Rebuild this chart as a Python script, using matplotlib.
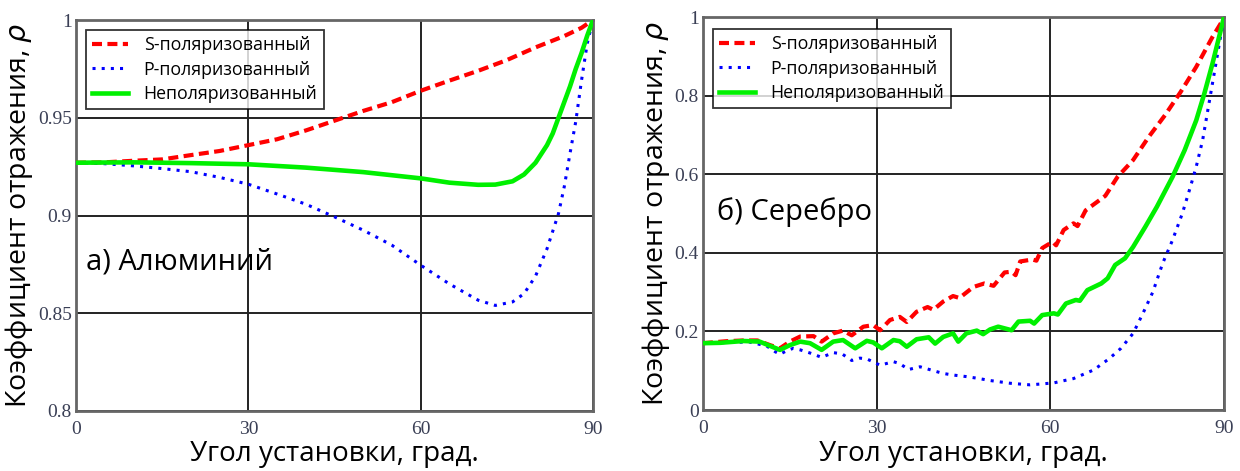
import numpy as np
import matplotlib.pyplot as plt

# ---- a) aluminium ----
al_angle_s = [0, 5, 10, 15, 20, 25, 30, 35, 40, 45, 50, 55, 60, 65, 70, 75, 80, 85, 88, 90]
al_s = [0.927, 0.9272, 0.928, 0.9287, 0.9309, 0.933, 0.936, 0.939, 0.9435, 0.9485, 0.9535,
        0.958, 0.9638, 0.969, 0.974, 0.9795, 0.986, 0.9918, 0.996, 1.0]

al_angle_p = [0, 5, 10, 15, 20, 25, 30, 35, 40, 45, 50, 55, 60, 65, 70, 73, 76, 78, 80,
              82, 84, 85, 86, 87, 88, 89, 90]
al_p = [0.927, 0.9265, 0.9254, 0.924, 0.9224, 0.9195, 0.916, 0.911, 0.9058, 0.8993, 0.8925,
        0.8848, 0.8746, 0.865, 0.8567, 0.854, 0.8558, 0.860, 0.869, 0.883, 0.901, 0.9147,
        0.9317, 0.948, 0.969, 0.988, 1.0]

al_angle_u = [0, 10, 20, 30, 40, 50, 60, 65, 70, 73, 76, 78, 80, 82, 83, 84, 85, 86, 87, 88, 89, 90]
al_u = [0.927, 0.9272, 0.9268, 0.9262, 0.9245, 0.9222, 0.919, 0.9168, 0.9157, 0.9158, 0.9175,
        0.921, 0.927, 0.936, 0.942, 0.950, 0.958, 0.966, 0.975, 0.983, 0.992, 1.0]

# ---- b) silver ----
ag_angle_s = [0, 4, 7, 9.4, 11.6, 13.3, 15.0, 16.8, 19.1, 20.5, 22.5, 24.2, 25.7, 27.7, 29.4,
              30.6, 32.3, 34.0, 35.2, 36.9, 38.8, 39.8, 41.5, 43.2, 44.3, 46.7, 48.6, 50.2,
              52.1, 53.3, 54.0, 54.8, 56.9, 57.6, 58.6, 60.4, 61.0, 62.3, 64.0, 64.7, 66.1,
              68.5, 69.5, 71.6, 74.3, 77.0, 79.8, 82.5, 85.2, 88.0, 89.7, 90]
ag_s = [0.170, 0.175, 0.177, 0.177, 0.165, 0.157, 0.174, 0.187, 0.188, 0.174, 0.195, 0.202,
        0.190, 0.212, 0.216, 0.203, 0.229, 0.237, 0.224, 0.250, 0.262, 0.255, 0.276, 0.290,
        0.285, 0.313, 0.322, 0.316, 0.350, 0.352, 0.343, 0.378, 0.383, 0.380, 0.412, 0.428,
        0.419, 0.458, 0.475, 0.468, 0.508, 0.534, 0.545, 0.593, 0.636, 0.695, 0.750, 0.809,
        0.873, 0.949, 0.990, 1.0]

ag_angle_p = [0, 5, 8, 11.0, 12.5, 13.3, 14.5, 15.6, 16.8, 18.5, 20.5, 22.5, 24.0, 25.7, 27.1,
              28.3, 30.6, 32.9, 34.0, 35.5, 37.5, 39.8, 41.5, 43.2, 45.5, 47.3, 49.6, 53.1,
              56.5, 58.2, 60.6, 64.0, 67.5, 70.2, 72.2, 74.3, 76.0, 77.7, 79.4, 81.1, 82.8,
              84.2, 85.2, 86.3, 87.3, 88.3, 89.3, 90]
ag_p = [0.170, 0.172, 0.173, 0.163, 0.148, 0.142, 0.151, 0.157, 0.153, 0.145, 0.134, 0.146,
        0.143, 0.126, 0.132, 0.130, 0.114, 0.123, 0.118, 0.103, 0.110, 0.100, 0.093, 0.089,
        0.085, 0.081, 0.075, 0.068, 0.064, 0.066, 0.069, 0.080, 0.102, 0.131, 0.157, 0.195,
        0.246, 0.300, 0.373, 0.432, 0.500, 0.568, 0.619, 0.686, 0.771, 0.856, 0.941, 1.0]

ag_angle_u = [0, 3, 7, 9.8, 11.6, 13.3, 15.0, 16.8, 18.5, 20.5, 22.5, 24.2, 26.3, 28.3, 29.4,
              30.9, 32.9, 34.0, 35.2, 36.9, 39.0, 40.1, 41.5, 43.2, 44.1, 45.5, 47.3, 48.4,
              49.6, 51.0, 53.3, 54.5, 56.5, 57.2, 58.6, 60.6, 61.3, 62.7, 64.4, 65.1, 66.4,
              68.8, 69.9, 71.2, 72.9, 74.3, 76.4, 78.4, 81.1, 83.2, 85.2, 86.6, 88.0, 89.3, 90]
ag_u = [0.170, 0.171, 0.1756, 0.174, 0.163, 0.153, 0.165, 0.174, 0.170, 0.153, 0.174, 0.178,
        0.157, 0.176, 0.172, 0.157, 0.178, 0.175, 0.161, 0.180, 0.185, 0.169, 0.186, 0.195,
        0.174, 0.195, 0.202, 0.193, 0.205, 0.212, 0.203, 0.225, 0.227, 0.220, 0.2415, 0.246,
        0.243, 0.271, 0.280, 0.278, 0.305, 0.322, 0.335, 0.369, 0.386, 0.415, 0.466, 0.517,
        0.593, 0.661, 0.737, 0.805, 0.881, 0.958, 1.0]

labels = ['S-поляризованный', 'P-поляризованный', 'Неполяризованный']
x_ticks = [0, 30, 60, 90]

sans = 'Open Sans'
serif = 'Liberation Serif'
tick_color = '#3a3f55'

fig = plt.figure(figsize=(12.4, 4.71), dpi=100)
ax1 = fig.add_axes([0.0613, 0.1274, 0.4169, 0.8301])
ax2 = fig.add_axes([0.5669, 0.1295, 0.4202, 0.8344])

panels = [
    (ax1, al_angle_s, al_s, al_angle_p, al_p, al_angle_u, al_u,
     (0.8, 1.0), [0.8, 0.85, 0.9, 0.95, 1.0], ['0.8', '0.85', '0.9', '0.95', '1'],
     'а) Алюминий', (0.019, 0.381), (0.019, 0.974)),
    (ax2, ag_angle_s, ag_s, ag_angle_p, ag_p, ag_angle_u, ag_u,
     (0.0, 1.0), [0, 0.2, 0.4, 0.6, 0.8, 1.0], ['0', '0.2', '0.4', '0.6', '0.8', '1'],
     'б) Серебро', (0.027, 0.504), (0.019, 0.969)),
]

for (ax, xs, ys, xp, yp, xu, yu, ylim, yticks, ytlabels, name, name_pos, leg_pos) in panels:
    ax.plot(xs, ys, color='#ff0000', lw=3.0, linestyle=(0, (2.4, 1.3)), label=labels[0], zorder=3)
    ax.plot(xp, yp, color='#0000ff', lw=2.2, linestyle=(0, (1, 2)), label=labels[1], zorder=3)
    ax.plot(xu, yu, color='#00f000', lw=3.3, label=labels[2], zorder=4)

    ax.set_xlim(0, 90)
    ax.set_ylim(*ylim)
    ax.set_xticks(x_ticks)
    ax.set_xticklabels([str(t) for t in x_ticks], fontfamily=serif, fontsize=14, color=tick_color)
    ax.set_yticks(yticks)
    ax.set_yticklabels(ytlabels, fontfamily=serif, fontsize=14, color=tick_color)
    ax.tick_params(length=0, pad=3)
    ax.tick_params(axis='x', pad=7)
    ax.grid(True, color='#222222', lw=1.4)
    ax.set_axisbelow(True)
    for sp in ax.spines.values():
        sp.set_color('#666666')
        sp.set_linewidth(2)

    ax.set_xlabel('Угол установки, град.', fontfamily=sans, fontsize=20, labelpad=2)
    ax.set_ylabel('Коэффициент отражения, $\\rho$', fontfamily=sans, fontsize=20.5, labelpad=2)

    ax.text(name_pos[0], name_pos[1], name, transform=ax.transAxes, fontfamily=sans,
            fontsize=21, va='center', ha='left')

    leg = ax.legend(loc='upper left', bbox_to_anchor=leg_pos, borderaxespad=0,
                    prop={'family': sans, 'size': 12.8}, frameon=True, fancybox=False,
                    edgecolor='black', handlelength=2.0, labelspacing=0.35,
                    borderpad=0.35, handletextpad=0.9)
    leg.get_frame().set_linewidth(1.3)
    leg.set_zorder(5)

fig.savefig('out.png', dpi=100)
